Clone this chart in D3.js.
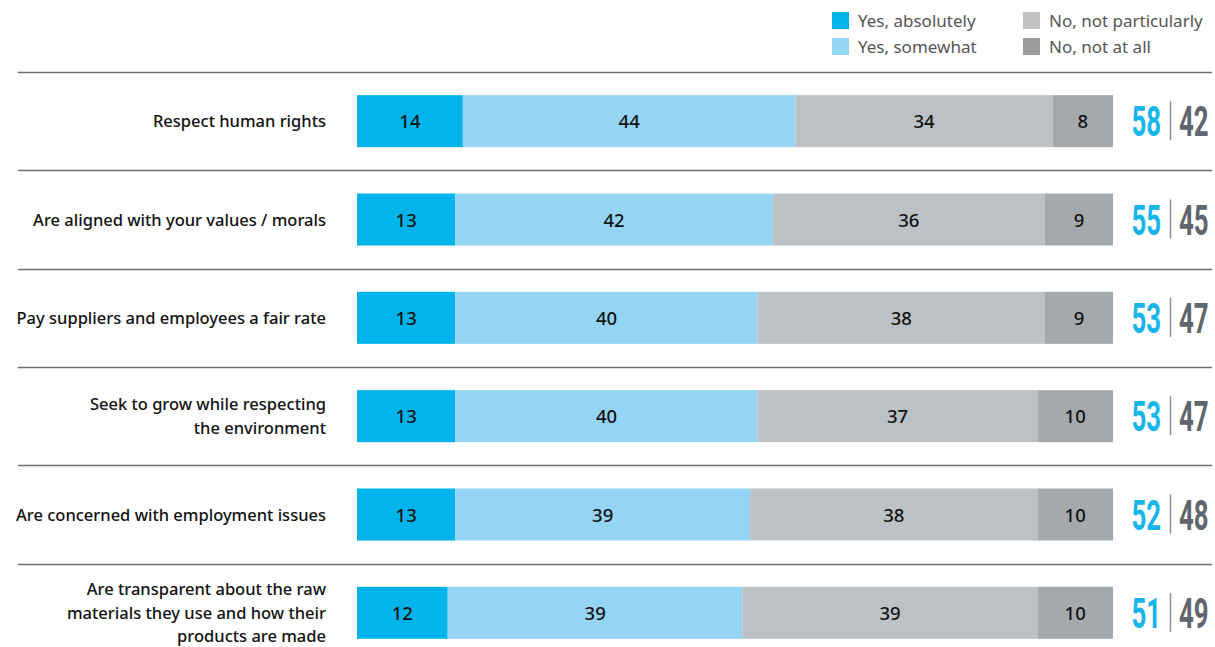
<!DOCTYPE html>
<html>
<head>
<meta charset="utf-8">
<script src="https://cdn.jsdelivr.net/npm/d3@7"></script>
<style>
  body { margin: 0; background: #fff; }
  svg { display: block; }
</style>
</head>
<body>
<svg id="chart"></svg>
<script>
var statements = [
    ["Respect human rights"],
    ["Are aligned with your values / morals"],
    ["Pay suppliers and employees a fair rate"],
    ["Seek to grow while respecting", "the environment"],
    ["Are concerned with employment issues"],
    ["Are transparent about the raw", "materials they use and how their", "products are made"]
];
var seriesNames = ["Yes, absolutely", "Yes, somewhat", "No, not particularly", "No, not at all"];
var yesAbsolutely = [14, 13, 13, 13, 13, 12];
var yesSomewhat = [44, 42, 40, 40, 39, 39];
var noParticularly = [34, 36, 38, 37, 38, 39];
var noAtAll = [8, 9, 9, 10, 10, 10];
var totalYes = [58, 55, 53, 53, 52, 51];
var totalNo = [42, 45, 47, 47, 48, 49];

var width = 1215,
    height = 647;

var colors = ['#00b4eb', '#94d4f5', '#bcc1c5', '#a4a9ad'];
var legendColors = ['#00b4eb', '#94d4f5', '#c0c2c4', '#9c9c9c'];

var svg = d3.select('#chart')
    .attr('width', width)
    .attr('height', height);

var x = d3.scaleLinear()
    .domain([0, 100])
    .range([357, 1113]);

var y = d3.scaleBand()
    .domain(d3.range(statements.length))
    .range([72, 662])
    .paddingInner(0);

var barH = 52;

// legend
var legend = svg.append('g');
seriesNames.forEach(function (name, i) {
    var lx = i < 2 ? 832 : 1023,
        ly = i % 2 === 0 ? 12 : 38;
    legend.append('rect')
        .attr('x', lx).attr('y', ly)
        .attr('width', 17).attr('height', 17)
        .attr('fill', legendColors[i]);
    legend.append('text')
        .attr('x', lx + 26).attr('y', ly + 15)
        .attr('font-family', 'Noto Sans, sans-serif')
        .attr('font-size', 17)
        .attr('fill', '#555')
        .text(name);
});

// row separators
svg.selectAll('line.sep')
    .data(d3.range(statements.length))
    .enter().append('line')
    .attr('class', 'sep')
    .attr('x1', 18).attr('x2', 1212)
    .attr('y1', function (d) { return Math.round(y(d)) + 0.5; })
    .attr('y2', function (d) { return Math.round(y(d)) + 0.5; })
    .attr('stroke', '#6f6f6f')
    .attr('stroke-width', 1.5);

var stack = d3.range(statements.length).map(function (i) {
    var vals = [yesAbsolutely[i], yesSomewhat[i], noParticularly[i], noAtAll[i]];
    var acc = 0;
    return vals.map(function (v, k) {
        var seg = { row: i, k: k, v: v, x0: acc, x1: acc + v };
        acc += v;
        return seg;
    });
});

var rows = svg.selectAll('g.row')
    .data(stack)
    .enter().append('g')
    .attr('class', 'row')
    .attr('transform', function (d, i) {
        return 'translate(0,' + (y(i) + y.bandwidth() / 2) + ')';
    });

rows.selectAll('rect')
    .data(function (d) { return d; })
    .enter().append('rect')
    .attr('x', function (d) { return x(d.x0); })
    .attr('width', function (d) { return x(d.x1) - x(d.x0); })
    .attr('y', -barH / 2)
    .attr('height', barH)
    .attr('fill', function (d) { return colors[d.k]; });

rows.selectAll('text.val')
    .data(function (d) { return d; })
    .enter().append('text')
    .attr('class', 'val')
    .attr('x', function (d) { return (x(d.x0) + x(d.x1)) / 2; })
    .attr('y', 7)
    .attr('text-anchor', 'middle')
    .attr('font-family', 'Noto Sans, sans-serif')
    .attr('font-size', 18.5)
    .attr('font-weight', 500)
    .attr('fill', '#111')
    .text(function (d) { return d.v; });

// category labels
rows.each(function (d, i) {
    var lines = statements[i];
    var lh = 23.5;
    var t = d3.select(this).append('text')
        .attr('text-anchor', 'end')
        .attr('font-family', 'Noto Sans, sans-serif')
        .attr('font-size', 16.5)
        .attr('font-weight', 500)
        .attr('fill', '#111');
    lines.forEach(function (line, j) {
        t.append('tspan')
            .attr('x', 326)
            .attr('y', 6 + (j - (lines.length - 1) / 2) * lh)
            .text(line);
    });
});

// totals on the right
rows.append('text')
    .attr('transform', 'translate(1161,15) scale(0.6,1)')
    .attr('text-anchor', 'end')
    .attr('font-family', 'Roboto, sans-serif')
    .attr('font-size', 43)
    .attr('font-weight', 700)
    .attr('fill', '#16b5ea')
    .text(function (d, i) { return totalYes[i]; });

rows.append('line')
    .attr('x1', 1170.5).attr('x2', 1170.5)
    .attr('y1', -20).attr('y2', 19)
    .attr('stroke', '#8a8f94')
    .attr('stroke-width', 1.5);

rows.append('text')
    .attr('transform', 'translate(1179,15) scale(0.6,1)')
    .attr('font-family', 'Roboto, sans-serif')
    .attr('font-size', 43)
    .attr('font-weight', 700)
    .attr('fill', '#5f666d')
    .text(function (d, i) { return totalNo[i]; });
</script>
</body>
</html>
